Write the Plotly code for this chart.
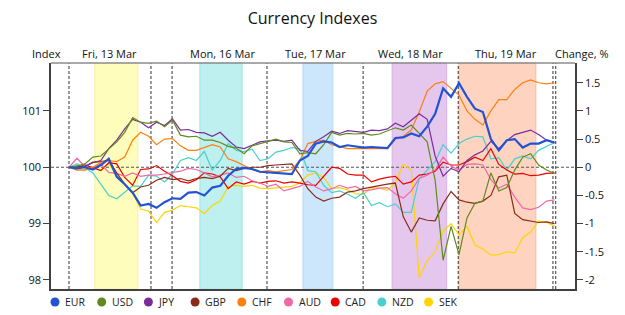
import plotly.graph_objects as go

# time in hours from Fri 13 Mar session start, sampled every 2 hours
hours = list(range(0, 123, 2))

series_names = ["EUR", "USD", "JPY", "GBP", "CHF", "AUD", "CAD", "NZD", "SEK"]
series_colors = ["#2352D2", "#5F8A1E", "#7A2D9A", "#8B2C1A", "#FF7F0F",
                 "#EE6AA7", "#EE0000", "#48D1CC", "#FFD400"]

EUR = [100.00, 99.98, 100.00, 99.96, 100.04, 100.15, 99.83, 99.70, 99.55, 99.32,
       99.35, 99.28, 99.38, 99.45, 99.44, 99.55, 99.56, 99.50, 99.64, 99.67,
       99.85, 99.97, 99.99, 99.97, 99.92, 99.91, 99.90, 99.89, 99.88, 100.12,
       100.20, 100.42, 100.46, 100.44, 100.36, 100.39, 100.37, 100.35, 100.36, 100.35,
       100.34, 100.52, 100.53, 100.60, 100.55, 100.72, 100.95, 101.40, 101.25, 101.49,
       101.25, 101.04, 100.98, 100.50, 100.30, 100.48, 100.50, 100.35, 100.42, 100.42,
       100.48, 100.44]
USD = [100.00, 100.02, 100.06, 100.18, 100.20, 100.33, 100.45, 100.62, 100.88, 100.80,
       100.78, 100.82, 100.72, 100.84, 100.57, 100.54, 100.55, 100.48, 100.48, 100.44,
       100.37, 100.34, 100.24, 100.38, 100.42, 100.47, 100.50, 100.45, 100.44, 100.24,
       100.26, 100.24, 100.40, 100.62, 100.57, 100.60, 100.59, 100.60, 100.57, 100.59,
       100.64, 100.70, 100.66, 100.75, 100.60, 100.45, 99.77, 98.35, 98.95, 98.45,
       99.10, 99.36, 99.40, 99.90, 99.58, 99.64, 99.95, 100.18, 100.24, 100.04,
       99.95, 99.89]
JPY = [100.00, 99.98, 100.02, 100.08, 100.12, 100.33, 100.48, 100.68, 100.85, 100.80,
       100.70, 100.80, 100.74, 100.86, 100.66, 100.67, 100.62, 100.61, 100.55, 100.62,
       100.48, 100.36, 100.33, 100.39, 100.45, 100.47, 100.48, 100.46, 100.48, 100.30,
       100.28, 100.46, 100.54, 100.64, 100.60, 100.65, 100.64, 100.62, 100.66, 100.65,
       100.68, 100.78, 100.72, 100.84, 100.95, 100.85, 100.20, 99.84, 99.98, 99.92,
       100.12, 100.22, 100.29, 100.46, 100.33, 100.47, 100.58, 100.62, 100.66, 100.58,
       100.48, 100.43]
GBP = [100.00, 100.02, 100.01, 100.09, 100.10, 100.12, 99.90, 99.70, 99.55, 99.65,
       99.68, 99.77, 99.82, 99.78, 99.80, 99.76, 99.80, 99.82, 99.80, 99.84,
       99.98, 99.94, 99.98, 100.00, 100.00, 100.03, 100.04, 100.05, 100.06, 99.86,
       99.62, 99.47, 99.40, 99.45, 99.47, 99.56, 99.58, 99.62, 99.65, 99.67,
       99.70, 99.72, 99.12, 98.85, 99.10, 99.06, 99.05, 99.35, 99.57, 99.42,
       99.38, 99.36, 99.40, 99.50, 99.83, 99.86, 99.18, 99.07, 99.04, 99.02,
       99.03, 99.00]
CHF = [100.00, 99.95, 99.95, 100.00, 100.09, 100.12, 100.10, 100.18, 100.48, 100.62,
       100.55, 100.40, 100.50, 100.51, 100.38, 100.30, 100.30, 100.35, 100.40, 100.36,
       100.15, 100.10, 100.03, 99.96, 99.92, 99.94, 99.92, 99.94, 99.96, 100.12,
       100.42, 100.46, 100.48, 100.40, 100.36, 100.33, 100.33, 100.33, 100.33, 100.33,
       100.33, 100.50, 100.55, 100.66, 100.98, 101.35, 101.48, 101.52, 101.40, 101.28,
       101.00, 100.85, 100.75, 101.00, 101.20, 101.20, 101.38, 101.50, 101.55, 101.50,
       101.48, 101.50]
AUD = [100.00, 100.16, 100.01, 99.97, 100.06, 99.91, 99.89, 99.84, 99.90, 99.84,
       99.86, 99.86, 99.88, 99.90, 99.93, 99.98, 99.96, 99.90, 99.83, 99.86,
       99.90, 99.82, 99.84, 99.76, 99.72, 99.66, 99.70, 99.58, 99.62, 99.66,
       99.75, 99.65, 99.58, 99.62, 99.68, 99.63, 99.66, 99.58, 99.60, 99.63,
       99.64, 99.53, 99.45, 99.58, 99.80, 99.86, 99.95, 100.18, 100.02, 99.95,
       100.05, 100.06, 100.04, 99.78, 99.63, 99.70, 99.47, 99.28, 99.25, 99.29,
       99.40, 99.42]
CAD = [100.00, 99.99, 100.04, 99.99, 99.94, 100.08, 100.06, 99.82, 99.68, 99.96,
       99.97, 100.03, 99.93, 99.85, 99.75, 99.72, 99.78, 99.90, 99.88, 99.83,
       99.62, 99.74, 99.70, 99.75, 99.72, 99.75, 99.76, 99.72, 99.74, 99.72,
       99.69, 99.68, 99.84, 100.00, 99.98, 99.88, 99.86, 99.86, 99.74, 99.79,
       99.82, 99.84, 99.70, 99.74, 99.86, 99.88, 99.93, 100.09, 100.04, 100.04,
       100.10, 100.18, 100.12, 100.33, 100.05, 99.95, 99.88, 99.89, 99.85, 99.86,
       99.89, 99.90]
NZD = [100.00, 100.06, 99.99, 99.90, 99.70, 99.50, 99.44, 99.55, 99.67, 99.66,
       99.86, 99.84, 99.74, 99.88, 100.12, 100.17, 100.12, 100.28, 99.95, 100.12,
       100.42, 100.30, 100.28, 100.32, 100.12, 100.15, 100.27, 100.30, 100.35, 100.33,
       99.94, 99.92, 99.68, 99.55, 99.58, 99.52, 99.45, 99.55, 99.32, 99.37,
       99.30, 99.35, 99.20, 99.20, 99.80, 99.95, 100.10, 100.40, 100.25, 100.42,
       100.50, 100.55, 100.54, 100.15, 100.17, 99.95, 100.15, 100.20, 100.15, 100.30,
       100.37, 100.44]
SEK = [100.00, 99.98, 99.95, 100.01, 99.94, 100.07, 99.85, 99.70, 99.55, 99.26,
       99.22, 99.02, 99.20, 99.24, 99.32, 99.30, 99.28, 99.18, 99.32, 99.40,
       99.66, 99.68, 99.66, 99.68, 99.63, 99.62, 99.63, 99.64, 99.66, 99.72,
       99.86, 99.90, 99.82, 99.62, 99.64, 99.60, 99.53, 99.52, 99.64, 99.63,
       99.59, 99.72, 100.05, 99.95, 98.04, 98.35, 98.50, 98.87, 99.00, 98.80,
       98.95, 98.62, 98.55, 98.44, 98.45, 98.50, 98.48, 98.75, 98.85, 99.05,
       99.02, 98.96]

series_values = [EUR, USD, JPY, GBP, CHF, AUD, CAD, NZD, SEK]

day_labels = ["Fri, 13 Mar", "Mon, 16 Mar", "Tue, 17 Mar", "Wed, 18 Mar", "Thu, 19 Mar"]
day_bounds = [0, 20.6, 25.9, 49.75, 73.9, 97.8, 121.6, 122.3]
day_spans = [(0, 20.6), (25.9, 51.3), (49.75, 73.9), (73.9, 97.8), (97.8, 121.6)]
session_spans = [(6.5, 17.3), (32.9, 43.5), (58.8, 66.3), (81.2, 94.9), (98.0, 117.3)]
session_fill = ["#FEFDBC", "#BDF0EE", "#CCE6FB", "#E5C7EE", "#FED4C1"]
session_edge = ["#F4EFA0", "#9EE6E4", "#B5D8F5", "#D8B0E6", "#F7BBA3"]

left_ticks = [98, 99, 100, 101]
right_ticks = [-2, -1.5, -1, -0.5, 0, 0.5, 1, 1.5]
right_ticktext = ["-2", "-1.5", "-1", "-0.5", "0", "0.5", "1", "1.5"]

fig = go.Figure()

draw_order = [8, 7, 6, 5, 3, 4, 2, 1, 0]
for i in draw_order:
    fig.add_trace(go.Scatter(
        x=hours, y=series_values[i], mode="lines", name=series_names[i],
        line=dict(color=series_colors[i], width=2.2 if series_names[i] == "EUR" else 1.2),
        showlegend=False))

# dummy trace to activate right axis
fig.add_trace(go.Scatter(x=[hours[0]], y=[0], yaxis="y2", mode="markers",
                         marker=dict(opacity=0), showlegend=False, hoverinfo="skip"))

shapes = []
for (a, b), fc, ec in zip(session_spans, session_fill, session_edge):
    shapes.append(dict(type="rect", xref="x", yref="paper", x0=a, x1=b, y0=0, y1=1,
                       fillcolor=fc, line=dict(color=ec, width=1), layer="below"))
for xb in day_bounds:
    shapes.append(dict(type="line", xref="x", yref="paper", x0=xb, x1=xb, y0=0, y1=1,
                       line=dict(color="#333333", width=1, dash="3px,2px"), layer="below"))
shapes.append(dict(type="line", xref="paper", yref="y", x0=0, x1=1, y0=100, y1=100,
                   line=dict(color="#555555", width=1, dash="3px,2px"), layer="below"))
shapes.append(dict(type="line", xref="paper", yref="paper", x0=0, x1=1, y0=1, y1=1,
                   line=dict(color="#8C8C8C", width=1.5)))

annotations = []
font_family = "Open Sans, Noto Sans, sans-serif"
for lbl, (a, b) in zip(day_labels, day_spans):
    annotations.append(dict(text=lbl, xref="x", yref="paper", x=(a + b) / 2, y=1,
                            yshift=10, showarrow=False, xanchor="center", yanchor="middle",
                            font=dict(size=11, color="#111111", family=font_family)))
annotations.append(dict(text="Index", xref="paper", yref="paper", x=0, y=1, xshift=-4.5,
                        yshift=10, showarrow=False, xanchor="center", yanchor="middle",
                        font=dict(size=11, color="#111111", family=font_family)))
annotations.append(dict(text="Change, %", xref="paper", yref="paper", x=1, y=1, xshift=6,
                        yshift=10, showarrow=False, xanchor="center", yanchor="middle",
                        font=dict(size=11, color="#111111", family=font_family)))

# custom legend row
for k, (nm, col) in enumerate(zip(series_names, series_colors)):
    px = 4 + 46.7 * k
    xa = px / 524.0
    shapes.append(dict(type="circle", xref="paper", yref="paper", xsizemode="pixel",
                       ysizemode="pixel", xanchor=xa, yanchor=0, x0=-4.5, x1=4.5,
                       y0=-17.5, y1=-8.5, fillcolor=col, line=dict(color=col, width=0)))
    annotations.append(dict(text=nm, xref="paper", yref="paper", x=xa, y=0, xshift=8,
                            yshift=-13, showarrow=False, xanchor="left", yanchor="middle",
                            font=dict(size=10.5, color="#222222", family=font_family)))

fig.update_layout(
    width=625, height=315,
    margin=dict(l=51, r=50, t=63, b=26),
    paper_bgcolor="white", plot_bgcolor="white",
    title=dict(text="Currency Indexes", x=0.5, xanchor="center", y=1 - 18 / 315,
               yanchor="middle", font=dict(size=16, color="#111111", family=font_family)),
    xaxis=dict(range=[-4.52, 127.14], showticklabels=False, ticks="", showgrid=False,
               zeroline=False, showline=True, linecolor="#404040", linewidth=1.5),
    yaxis=dict(range=[97.84, 101.85], tickvals=left_ticks, ticks="outside", ticklen=6,
               tickcolor="#404040", showline=True, linecolor="#404040", linewidth=1.5,
               showgrid=False, zeroline=False,
               tickfont=dict(size=11, color="#111111", family=font_family)),
    yaxis2=dict(range=[-2.16, 1.85], overlaying="y", side="right", tickvals=right_ticks,
                ticktext=right_ticktext, ticks="outside", ticklen=6, tickcolor="#404040",
                showline=True, linecolor="#404040", linewidth=1.5, showgrid=False,
                zeroline=False, tickfont=dict(size=11, color="#111111", family=font_family)),
    shapes=shapes, annotations=annotations,
)

fig.write_html("out.html")
